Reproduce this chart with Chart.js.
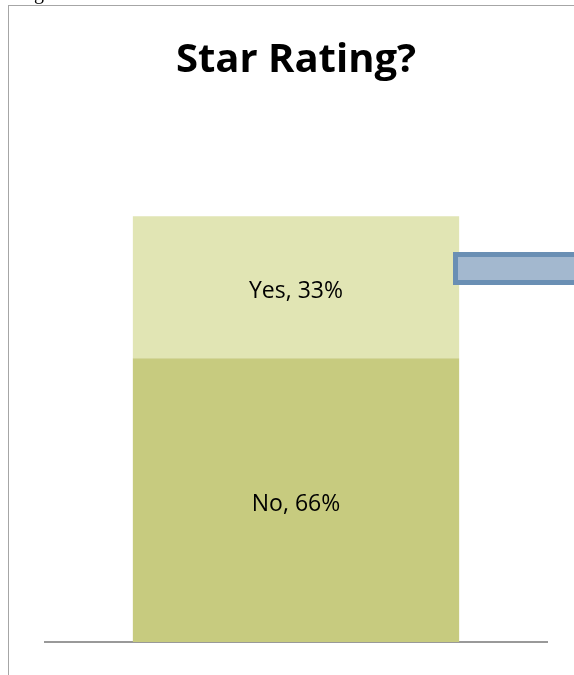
<!DOCTYPE html>
<html>
<head>
<meta charset="utf-8">
<script src="https://cdn.jsdelivr.net/npm/chart.js@4"></script>
<style>
html, body { margin: 0; padding: 0; background: #fff; }
#wrap { position: relative; width: 574px; height: 675px; overflow: hidden; }
#topLine { position: absolute; left: 8px; top: 5px; width: 566px; height: 1px; background: #a6a6a6; }
#leftLine { position: absolute; left: 8px; top: 5px; width: 1px; height: 670px; background: #a6a6a6; }
#cutText { position: absolute; left: 34px; top: -19px; font: 20px "Liberation Serif"; color: #000; }
#shape { position: absolute; left: 453px; top: 252px; width: 130px; height: 23px;
  background: #a3b8cf; border: 5px solid #6a8fb4; }
canvas { position: absolute; left: 0; top: 0; }
</style>
</head>
<body>
<div id="wrap">
<canvas id="chart" width="574" height="675"></canvas>
<div id="topLine"></div>
<div id="leftLine"></div>
<div id="cutText">g</div>
<div id="shape"></div>
</div>
<script>
const categories = [''];
const seriesNames = ['No', 'Yes'];
const noValues = [66];
const yesValues = [33];

const labelPlugin = {
  id: 'segLabels',
  afterDatasetsDraw(chart) {
    const ctx = chart.ctx;
    ctx.save();
    ctx.font = '23px "Open Sans"';
    ctx.fillStyle = '#000';
    ctx.textAlign = 'center';
    ctx.textBaseline = 'middle';
    chart.data.datasets.forEach((ds, i) => {
      chart.getDatasetMeta(i).data.forEach((bar, j) => {
        const y = (bar.y + bar.base) / 2 + 4;
        ctx.fillText(ds.label + ', ' + ds.data[j] + '%', bar.x, y);
      });
    });
    ctx.restore();
  }
};

new Chart(document.getElementById('chart'), {
  type: 'bar',
  data: {
    labels: categories,
    datasets: [
      { label: seriesNames[0], data: noValues, backgroundColor: '#c7cb7f' },
      { label: seriesNames[1], data: yesValues, backgroundColor: '#e1e5b4' }
    ]
  },
  options: {
    responsive: false,
    animation: false,
    barPercentage: 0.65,
    categoryPercentage: 1,
    layout: { padding: { left: 45, right: 27, top: 37, bottom: 25 } },
    plugins: {
      legend: { display: false },
      tooltip: { enabled: false },
      title: {
        display: true,
        text: 'Star Rating?',
        color: '#000',
        font: { family: '"Open Sans"', size: 40, weight: 'bold' },
        padding: { top: 0, bottom: 127 }
      }
    },
    scales: {
      x: {
        stacked: true,
        grid: { display: false },
        border: { display: true, color: '#999', width: 2 },
        ticks: { display: false }
      },
      y: {
        stacked: true,
        display: false,
        min: 0,
        max: 100
      }
    }
  },
  plugins: [labelPlugin]
});
</script>
</body>
</html>
